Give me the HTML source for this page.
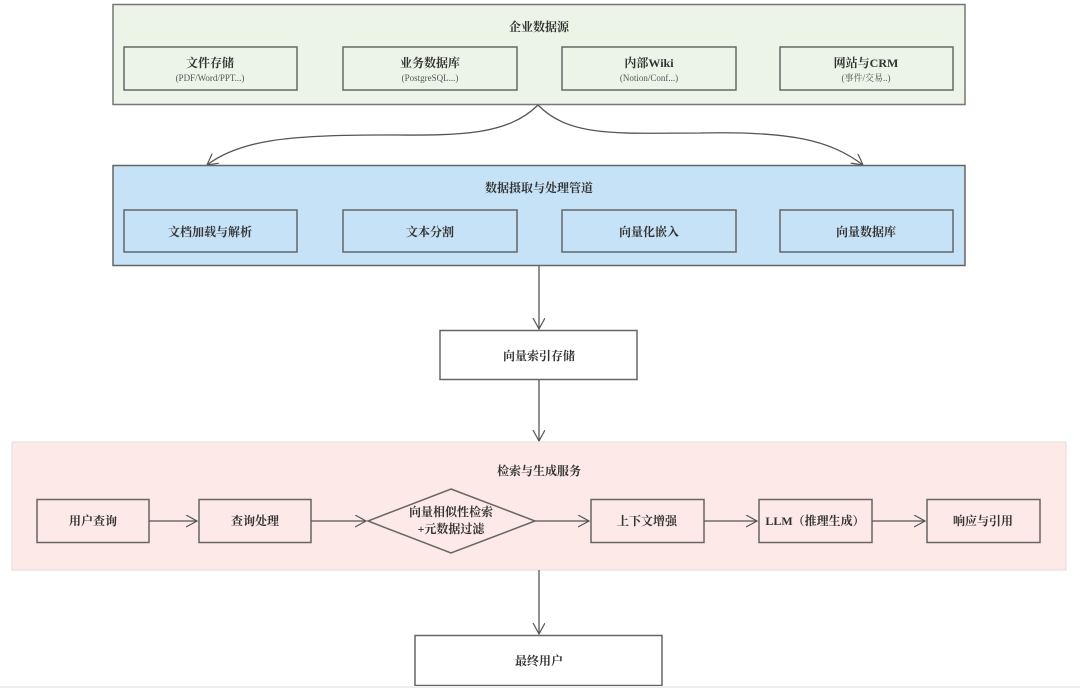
<!DOCTYPE html>
<html><head><meta charset="utf-8"><style>
html,body{margin:0;padding:0;background:#fff;}
svg{display:block;}
text{font-family:"Liberation Serif","Noto Serif CJK SC",serif;font-weight:bold;fill:#333;text-anchor:middle;}
.s{font-weight:normal;font-size:9px;fill:#555;}
</style></head><body>
<svg width="1080" height="688" viewBox="0 0 1080 688" xmlns="http://www.w3.org/2000/svg">
<defs>
<marker id="a" markerWidth="14" markerHeight="14" refX="11" refY="6" orient="auto" markerUnits="userSpaceOnUse">
<path d="M0,0 L11,6 L0,12" fill="none" stroke="#555" stroke-width="1.2"/>
</marker>
</defs>
<!-- green group -->
<rect x="113" y="4.5" width="852" height="100" fill="#ebf4e6" stroke="#777" stroke-width="1.5"/>
<text x="539" y="31" font-size="12">企业数据源</text>
<g fill="#ebf4e6" stroke="#666" stroke-width="1.5">
<rect x="124" y="47" width="173" height="43"/>
<rect x="343" y="47" width="174" height="43"/>
<rect x="562" y="47" width="174" height="43"/>
<rect x="780" y="47" width="173" height="43"/>
</g>
<text x="210" y="67" font-size="12">文件存储</text><text class="s" x="210" y="81">(PDF/Word/PPT...)</text>
<text x="430" y="67" font-size="12">业务数据库</text><text class="s" x="430" y="81">(PostgreSQL...)</text>
<text x="649" y="67" font-size="12">内部Wiki</text><text class="s" x="649" y="81">(Notion/Conf...)</text>
<text x="866" y="67" font-size="12">网站与CRM</text><text class="s" x="866" y="81">(事件/交易..)</text>
<!-- curves -->
<path d="M538,105 C505,138 450,135 380,135 C290,135 240,140 207,165" fill="none" stroke="#555" stroke-width="1.3" marker-end="url(#a)"/>
<path d="M538,105 C570,138 620,133 700,133 C790,131 830,140 863,165" fill="none" stroke="#555" stroke-width="1.3" marker-end="url(#a)"/>
<!-- blue group -->
<rect x="113" y="165.5" width="852" height="100" fill="#c5e2f6" stroke="#666" stroke-width="1.5"/>
<text x="539" y="192" font-size="12">数据摄取与处理管道</text>
<g fill="#c5e2f6" stroke="#666" stroke-width="1.5">
<rect x="124" y="210" width="173" height="42"/>
<rect x="343" y="210" width="174" height="42"/>
<rect x="562" y="210" width="174" height="42"/>
<rect x="780" y="210" width="173" height="42"/>
</g>
<text x="210" y="236" font-size="12">文档加载与解析</text>
<text x="430" y="236" font-size="12">文本分割</text>
<text x="649" y="236" font-size="12">向量化嵌入</text>
<text x="866" y="236" font-size="12">向量数据库</text>
<!-- middle -->
<line x1="539" y1="266" x2="539" y2="329" stroke="#555" stroke-width="1.3" marker-end="url(#a)"/>
<rect x="440" y="330.5" width="197" height="49" fill="#fff" stroke="#666" stroke-width="1.5"/>
<text x="539" y="360" font-size="12">向量索引存储</text>
<line x1="539" y1="380" x2="539" y2="441" stroke="#555" stroke-width="1.3" marker-end="url(#a)"/>
<!-- pink -->
<rect x="12" y="442" width="1054" height="128" fill="#fde9e7" stroke="#e6dcdc" stroke-width="1"/>
<text x="539" y="475" font-size="12">检索与生成服务</text>
<g fill="#fde9e7" stroke="#666" stroke-width="1.5">
<rect x="37" y="499.5" width="112" height="43"/>
<rect x="199" y="499.5" width="112" height="43"/>
<polygon points="451,489 535,521 451,553 368,521"/>
<rect x="591" y="499.5" width="113" height="43"/>
<rect x="759" y="499.5" width="113" height="43"/>
<rect x="927" y="499.5" width="113" height="43"/>
</g>
<g stroke="#555" stroke-width="1.3" marker-end="url(#a)">
<line x1="149" y1="521" x2="197" y2="521"/>
<line x1="311" y1="521" x2="366" y2="521"/>
<line x1="535" y1="521" x2="589" y2="521"/>
<line x1="704" y1="521" x2="757" y2="521"/>
<line x1="872" y1="521" x2="925" y2="521"/>
</g>
<text x="93" y="525" font-size="12">用户查询</text>
<text x="255" y="525" font-size="12">查询处理</text>
<text x="451" y="516" font-size="12">向量相似性检索</text>
<text x="451" y="533" font-size="12">+元数据过滤</text>
<text x="647" y="525" font-size="12">上下文增强</text>
<text x="815" y="525" font-size="12">LLM（推理生成）</text>
<text x="983" y="525" font-size="12">响应与引用</text>
<line x1="539" y1="570" x2="539" y2="634" stroke="#555" stroke-width="1.3" marker-end="url(#a)"/>
<rect x="415" y="635.5" width="247" height="50" fill="#fff" stroke="#666" stroke-width="1.5"/>
<text x="539" y="665" font-size="12">最终用户</text>
<rect x="0" y="686" width="1080" height="2" fill="#eee"/>
</svg>
</body></html>
